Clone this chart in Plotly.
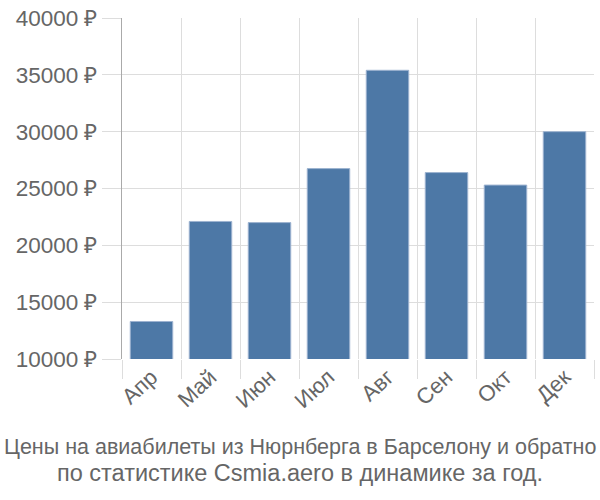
import plotly.graph_objects as go

months = ["Апр", "Май", "Июн", "Июл", "Авг", "Сен", "Окт", "Дек"]
prices = [13300, 22100, 22000, 26750, 35400, 26400, 25300, 30000]
y_ticks = [10000, 15000, 20000, 25000, 30000, 35000, 40000]
y_tick_labels = [f"{v} ₽" for v in y_ticks]
title_lines = ["Цены на авиабилеты из Нюрнберга в Барселону и обратно",
               "по статистике Csmia.aero в динамике за год."]

fig = go.Figure(go.Bar(
    x=months, y=prices,
    marker=dict(color="#4d78a6", line=dict(color="#9db3d0", width=1)),
))

font = "Liberation Sans, Arial, sans-serif"
title_x = (300 - 122) / 472
fig.update_layout(
    width=600, height=500,
    margin=dict(l=122, r=6, t=15, b=141),
    plot_bgcolor="white", paper_bgcolor="white",
    bargap=0.28,
    showlegend=False,
    font=dict(family=font, color="#666666", size=22),
    annotations=[
        dict(text=title_lines[0], x=title_x, y=0, xref="paper", yref="paper",
             xanchor="center", yanchor="middle", yshift=-88, showarrow=False,
             font=dict(size=21.5, color="#666666")),
        dict(text=title_lines[1], x=title_x, y=0, xref="paper", yref="paper",
             xanchor="center", yanchor="middle", yshift=-114, showarrow=False,
             font=dict(size=23.5, color="#666666")),
    ],
)
fig.update_xaxes(
    type="category", tickson="boundaries", ticks="outside", ticklen=19,
    tickcolor="#dddddd", showgrid=True, gridcolor="#dddddd", gridwidth=1,
    tickangle=-43, tickfont=dict(size=22, color="#666666"),
    showline=False, zeroline=False,
)
fig.update_yaxes(
    range=[10000, 40000], tickvals=y_ticks, ticktext=y_tick_labels,
    ticks="outside", ticklen=19, tickcolor="#dddddd",
    showgrid=True, gridcolor="#dddddd", gridwidth=1,
    showline=True, linecolor="#aaaaaa", linewidth=1,
    zeroline=False, tickfont=dict(size=22.5, color="#666666"),
)
fig.write_html("out.html")
